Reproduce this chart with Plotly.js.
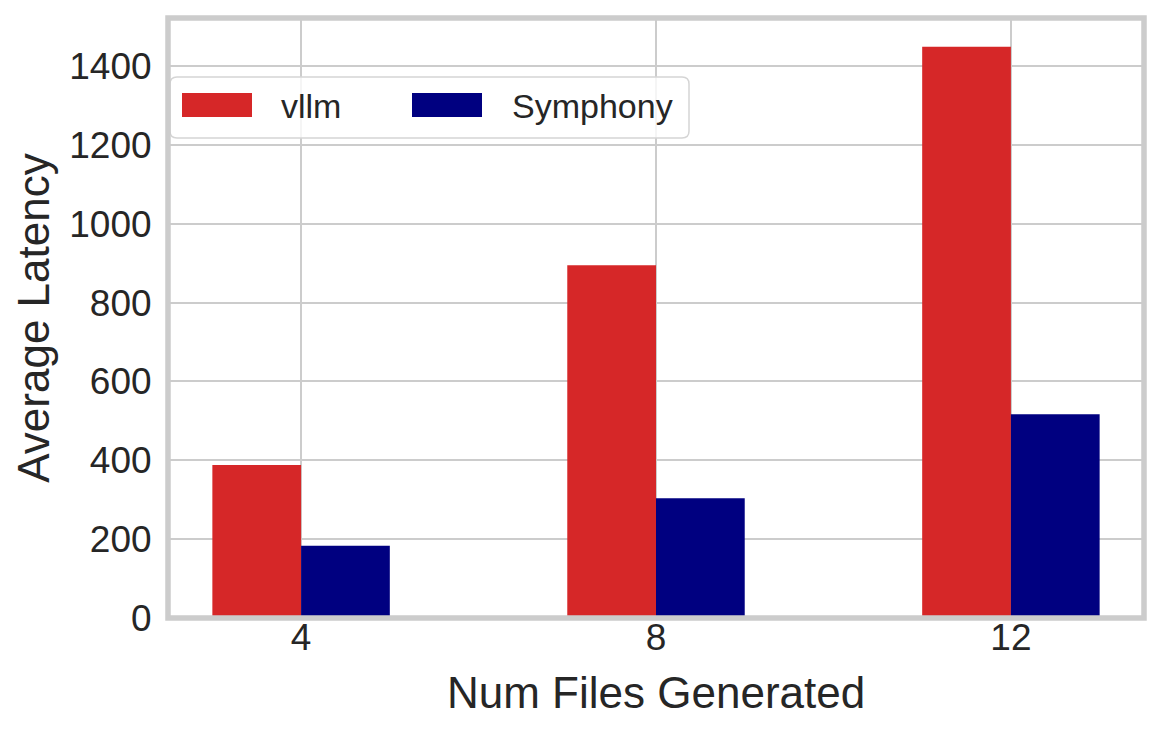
<!DOCTYPE html>
<html>
<head>
<meta charset="utf-8">
<script src="https://cdn.plot.ly/plotly-3.0.1.min.js"></script>
<style>
    html, body { margin:0; padding:0; background:#ffffff; }
    #latencyChart { width:1162px; height:734px; }
</style>
</head>
<body>
<div id="latencyChart"></div>
<script>

/* ==========================================
   DATA
========================================== */

const categories = ["4", "8", "12"];

const vllmLatency = [388, 895, 1449];

const symphonyLatency = [183, 304, 517];

const seriesNames = ["vllm", "Symphony"];

const seriesColors = ["#d62728", "#000080"];

const yTicks = [0, 200, 400, 600, 800, 1000, 1200, 1400];


/* ==========================================
   LAYOUT HELPERS (pixel -> paper)
========================================== */

const plotLeft = 168;
const plotRight = 1144;
const plotTop = 18;
const plotBottom = 618;

function px(x){
    return (x - plotLeft) / (plotRight - plotLeft);
}

function py(y){
    return (plotBottom - y) / (plotBottom - plotTop);
}

function roundedBox(x0, y0, x1, y1, r){

    const rx = r / (plotRight - plotLeft);
    const ry = r / (plotBottom - plotTop);

    const l = px(x0), rr = px(x1), t = py(y0), b = py(y1);

    return `M ${l+rx},${t} L ${rr-rx},${t} Q ${rr},${t} ${rr},${t-ry} ` +
           `L ${rr},${b+ry} Q ${rr},${b} ${rr-rx},${b} ` +
           `L ${l+rx},${b} Q ${l},${b} ${l},${b+ry} ` +
           `L ${l},${t-ry} Q ${l},${t} ${l+rx},${t} Z`;
}


/* ==========================================
   DRAW CHART
========================================== */

function drawLatencyChart(){

    const xPos = categories.map((c, i) => i);

    const seriesValues = [vllmLatency, symphonyLatency];

    const traces = seriesValues.map((values, k) => {

        return {
            type:"bar",
            x:xPos,
            y:values,
            width:0.25,
            offset:k === 0 ? -0.25 : 0,
            name:seriesNames[k],
            marker:{
                color:seriesColors[k],
                line:{ width:0 }
            },
            showlegend:false
        };

    });


    // legend drawn by hand to get matplotlib-style wide patches
    const legendPatchX = [182, 412];
    const legendTextX = [279, 510];

    let shapes = [
        {
            type:"path",
            xref:"paper",
            yref:"paper",
            path:roundedBox(170, 77, 689, 138, 7),
            fillcolor:"rgba(255,255,255,0.8)",
            line:{ color:"#d5d5d5", width:1.5 },
            layer:"above"
        }
    ];

    let annotations = [];

    seriesNames.forEach((name, k) => {

        shapes.push({
            type:"rect",
            xref:"paper",
            yref:"paper",
            x0:px(legendPatchX[k]),
            x1:px(legendPatchX[k] + 70),
            y0:py(117),
            y1:py(93),
            fillcolor:seriesColors[k],
            line:{ width:0 },
            layer:"above"
        });

        annotations.push({
            xref:"paper",
            yref:"paper",
            x:px(legendTextX[k]),
            y:py(106),
            xanchor:"left",
            yanchor:"middle",
            showarrow:false,
            text:name,
            font:{ size:34, color:"#262626" }
        });

    });

    // x axis title placed as annotation for exact vertical position
    annotations.push({
        xref:"paper",
        yref:"paper",
        x:0.5,
        y:py(692),
        xanchor:"center",
        yanchor:"middle",
        showarrow:false,
        text:"Num Files Generated",
        font:{ size:44, color:"#262626" }
    });

    // frame (spines)
    shapes.push({
        type:"rect",
        xref:"paper",
        yref:"paper",
        x0:0, x1:1, y0:0, y1:1,
        line:{ color:"#cccccc", width:5.5 },
        fillcolor:"rgba(0,0,0,0)",
        layer:"above"
    });


    Plotly.newPlot(

        "latencyChart",

        traces,

        {
            width:1162,
            height:734,
            margin:{ l:plotLeft, r:1162 - plotRight, t:plotTop, b:734 - plotBottom },
            paper_bgcolor:"#ffffff",
            plot_bgcolor:"#ffffff",
            barmode:"overlay",
            font:{
                family:"Liberation Sans, Arial, sans-serif",
                color:"#262626"
            },
            xaxis:{
                range:[-0.375, 2.375],
                tickmode:"array",
                tickvals:xPos,
                ticktext:categories,
                showgrid:true,
                gridcolor:"#cccccc",
                gridwidth:1.6,
                zeroline:false,
                showline:false,
                ticks:"",
                ticklabelstandoff:-6,
                tickfont:{ size:37, color:"#262626" }
            },
            yaxis:{
                range:[0, 1522],
                tickmode:"array",
                tickvals:yTicks,
                showgrid:true,
                gridcolor:"#cccccc",
                gridwidth:1.6,
                zeroline:false,
                showline:false,
                ticks:"outside",
                ticklen:8,
                tickcolor:"rgba(0,0,0,0)",
                tickfont:{ size:37, color:"#262626" },
                title:{
                    text:"Average Latency",
                    font:{ size:44, color:"#262626" },
                    standoff:5
                }
            },
            shapes:shapes,
            annotations:annotations
        },

        {
            responsive:false,
            displayModeBar:false
        }

    );

}

drawLatencyChart();

</script>
</body>
</html>
